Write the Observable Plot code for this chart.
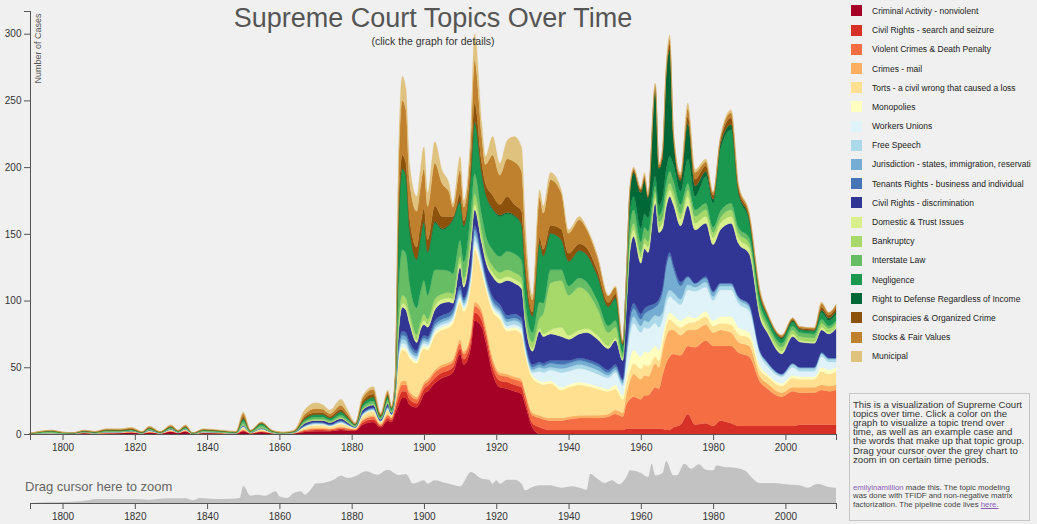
<!DOCTYPE html>
<html><head><meta charset="utf-8">
<script src="https://cdn.jsdelivr.net/npm/d3@7"></script>
<script src="https://cdn.jsdelivr.net/npm/@observablehq/plot@0.6"></script>
<style>
html,body{margin:0;padding:0}
body{background:#f0f0f0;font-family:"Liberation Sans",Arial,Helvetica,sans-serif;overflow:hidden;width:1037px;height:524px;position:relative}
#main{position:absolute;left:0;top:0}
#overview{position:absolute;left:0;top:455px}
#title{position:absolute;left:0;width:866px;top:2px;text-align:center;font-size:27px;color:#555;line-height:32px;pointer-events:none}
#subtitle{position:absolute;left:0;width:866px;top:35px;text-align:center;font-size:10.5px;color:#333;line-height:13px}
#drag{position:absolute;left:25px;top:479px;font-size:13px;color:#666;line-height:16px}
#legend{position:absolute;left:851px;top:1.4px;width:180px;overflow:hidden}
.item{display:flex;align-items:center;height:19.2px;white-space:nowrap;font-size:8.5px;color:#222}
.sw{width:11px;height:11px;margin-right:10px;flex:none}
#info{position:absolute;left:849px;top:393px;width:181px;height:128px;box-sizing:border-box;border:1px solid #c6c6c6}
#p1{position:absolute;left:3px;top:5.5px;font-size:9.6px;line-height:9.2px;color:#333;white-space:nowrap}
#p2{position:absolute;left:3px;top:89.5px;font-size:7.8px;line-height:8.8px;color:#444;white-space:nowrap}
.lnk{color:#8a5cb8}
</style></head>
<body>
<div id="main"></div>
<div id="overview"></div>
<div id="title">Supreme Court Topics Over Time</div>
<div id="subtitle">(click the graph for details)</div>
<div id="drag">Drag cursor here to zoom</div>
<div id="legend"></div>
<div id="info">
<div id="p1">This is a visualization of Supreme Court<br>topics over time. Click a color on the<br>graph to visualize a topic trend over<br>time, as well as an example case and<br>the words that make up that topic group.<br>Drag your cursor over the grey chart to<br>zoom in on certain time periods.</div>
<div id="p2"><span class="lnk">emilyinamillion</span> made this. The topic modeling<br>was done with TFIDF and non-negative matrix<br>factorization. The pipeline code lives <span class="lnk" style="text-decoration:underline">here.</span></div>
</div>
<script>
const topics = ["Criminal Activity - nonviolent","Civil Rights - search and seizure","Violent Crimes & Death Penalty","Crimes - mail","Torts - a civil wrong that caused a loss","Monopolies","Workers Unions","Free Speech","Jurisdiction - states, immigration, reservations","Tenants Rights - business and individual","Civil Rights - discrimination","Domestic & Trust Issues","Bankruptcy","Interstate Law","Negligence","Right to Defense Regardless of Income","Conspiracies & Organized Crime","Stocks & Fair Values","Municipal"];
const colors = ["#a50026","#d73027","#f46d43","#fdae61","#fee090","#ffffbf","#e0f3f8","#abd9e9","#74add1","#4575b4","#313695","#d9ef8b","#a6d96a","#66bd63","#1a9850","#006837","#8c510a","#bf812d","#dfc27d"];

const years = [1791,1797,1800,1803,1806,1809,1812,1816,1819,1822,1824,1827,1830,1832,1834,1836,1839,1844,1848,1850,1852,1855,1858,1861,1864,1867,1870,1872,1874,1877,1879,1881,1883,1886,1888,1890,1891,1892,1893,1894,1895,1896,1898,1899,1900,1901,1903,1905,1907,1908,1910,1911,1913,1914,1916,1917,1919,1921,1923,1925,1927,1928,1930,1932,1933,1935,1938,1940,1943,1945,1948,1951,1953,1955,1956,1957,1958,1960,1961,1962,1964,1965,1966,1967,1968,1969,1971,1973,1975,1978,1980,1982,1985,1987,1990,1993,1995,1999,2002,2004,2008,2010,2012,2014];

// cases per year, one row per year, columns in the order of `topics`
const counts = [
[0.1,0,0,0,0.1,0,0,0,0,0,0,0,0,0.1,0.1,0,0,0.1,0.1],
[0.3,0.1,0.1,0,0.3,0.1,0,0,0.1,0,0.1,0,0.1,0.8,0.3,0,0.2,0.3,0.2],
[0.3,0,0,0,0.2,0,0,0,0,0,0,0,0,0.4,0.2,0,0.1,0.2,0.1],
[0.5,0,0,0,0.1,0,0,0,0,0,0,0,0,0.1,0.1,0,0.1,0.1,0],
[0.8,0.1,0.1,0,0.3,0,0,0,0.1,0,0.1,0,0,0.5,0.3,0,0.2,0.3,0.2],
[0.4,0,0.1,0,0.3,0,0,0,0,0,0.1,0,0,0.3,0.2,0,0.2,0.3,0.1],
[0.6,0.1,0.1,0.1,0.5,0.1,0,0,0.1,0,0.2,0,0.1,0.5,0.4,0,0.3,0.6,0.3],
[0.8,0.1,0.1,0,0.4,0.1,0,0,0.1,0,0.2,0,0.1,0.4,0.4,0,0.4,0.5,0.4],
[1.2,0.1,0.2,0.1,0.5,0.1,0,0,0.1,0,0.2,0,0.1,0.4,0.4,0,0.5,0.7,0.4],
[0.5,0,0.1,0,0.2,0,0,0,0,0,0.1,0,0,0.2,0.2,0,0.2,0.3,0.2],
[1.2,0.2,0.2,0.1,0.6,0.1,0.1,0,0.2,0.1,0.4,0,0.1,0.6,0.5,0,0.5,0.7,0.4],
[0.5,0,0.1,0,0.2,0,0,0,0.1,0,0.1,0,0,0.2,0.2,0,0.2,0.2,0.2],
[1.8,0.2,0.2,0.1,0.8,0.1,0.1,0,0.2,0.1,0.4,0,0.1,0.6,0.5,0,0.5,0.8,0.5],
[0.8,0.1,0.1,0,0.3,0,0,0,0.1,0,0.2,0,0,0.3,0.3,0,0.2,0.4,0.2],
[2,0.2,0.2,0.1,0.8,0.1,0.1,0,0.2,0.1,0.3,0,0.1,0.5,0.5,0,0.5,0.8,0.5],
[0.3,0,0,0,0.1,0,0,0,0,0,0,0,0,0.2,0.1,0,0.1,0.1,0.1],
[0.8,0.1,0.1,0.1,0.4,0.1,0,0,0.1,0,0.2,0,0.1,0.6,0.4,0,0.3,0.4,0.3],
[0.6,0.1,0.1,0,0.3,0,0,0,0.1,0,0.1,0,0.1,0.5,0.3,0,0.2,0.3,0.3],
[0.4,0,0.1,0,0.2,0,0,0,0,0,0.1,0,0,0.4,0.2,0,0.1,0.3,0.2],
[2,0.5,0.5,0.3,1.5,0.3,0.2,0.2,0.4,0.2,0.5,0.2,0.5,2,2,0.2,1.5,2.5,1],
[0.5,0.1,0.1,0,0.3,0,0,0,0.1,0,0.1,0,0.1,0.6,0.4,0,0.2,0.3,0.2],
[1.5,0.3,0.3,0.2,1,0.2,0.2,0.1,0.3,0.1,0.3,0.1,0.4,1.5,1.2,0.1,0.5,0.6,0.1],
[0.6,0.1,0.1,0,0.3,0,0,0,0.1,0,0.1,0,0.1,0.5,0.4,0,0.2,0.3,0.2],
[0.3,0,0.1,0,0.1,0,0,0,0,0,0.1,0,0,0.2,0.2,0,0.1,0.2,0.2],
[0.5,0.1,0.1,0,0.3,0,0,0,0.1,0,0.1,0,0.1,0.3,0.3,0,0.2,0.4,0.5],
[1.5,0.8,0.8,0.3,1.5,0.3,0.3,0.3,0.4,0.3,1.5,0.2,0.5,1.2,1.3,0.1,1.5,2,3.3],
[2,1,1,0.5,2,0.5,0.5,0.5,0.5,0.5,1.2,0.3,0.5,1.5,2,0.2,1.5,3,4.3],
[2,1,1,0.5,2,0.5,0.4,0.4,0.5,0.4,1.5,0.3,0.5,1.5,2,0.2,1.3,2.5,3.5],
[2,0.8,0.8,0.4,1.5,0.3,0.3,0.3,0.4,0.3,1.5,0.2,0.4,1.2,1.5,0.1,1.2,2,2.8],
[3,1,1,0.5,2,0.5,0.5,0.5,0.6,0.5,1.5,0.3,0.6,1.8,2.2,0.2,1.8,3,4.5],
[2.5,0.8,0.8,0.3,1.5,0.3,0.3,0.3,0.4,0.3,1,0.2,0.4,1.3,1.5,0.1,1.2,2,2.3],
[2.5,0.5,0.5,0.2,0.8,0.1,0.1,0.1,0.2,0.1,0.5,0.1,0.2,0.6,0.6,0,0.5,0.7,0.3],
[7,1.5,1.5,0.8,2.5,0.5,0.5,0.5,0.6,0.5,2,0.3,0.6,1.5,2,0.2,2,2.5,1.5],
[9,2,2,1,3,0.5,0.5,0.5,0.7,0.5,2,0.3,0.7,2,2.5,0.3,2.5,3.5,2],
[5,1,1,0.5,1.5,0.2,0.2,0.2,0.3,0.2,1,0.1,0.3,0.8,1,0.1,0.8,1.2,0.5],
[10,2,2,1,3,0.5,0.5,0.5,0.8,0.5,2,0.3,0.7,2,2.5,0.2,1.5,2,1],
[9,1.5,1.5,0.5,1.5,0.2,0.2,0.2,0.3,0.2,1,0.2,0.4,1,1.5,0.1,0.5,0.8,0.4],
[15,3,3,1,4,0.5,0.5,0.5,0.5,0.5,2,0.3,0.7,2,3,0.2,1,2,1],
[22,5,5,3,20,2,2,2,3,3,10,3,5,25,50,1,10,28,12],
[27,5,5,3,23,2,3,3,3,3,18,3,6,34,60,1,10,41,18],
[27,5,5,3,22,2,3,3,3,3,17,3,6,33,58,1,9,40,16],
[22,4,4,2,25,2,2,2,3,3,14,3,5,22,40,1,8,27,14],
[20,3,3,2,25,1.5,2,2,2,2,6,2,4,20,36,0.5,9,27,11],
[24,4,3,2,27,2,2,2,2,2,8,2,4,22,40,0.5,10,28,13.5],
[30,4,3,2,25,2,2,2,2,2,8,3,5,25,43,1,10,30,16],
[32,4,3,2,22,2,2,2,2,2,7,2,4,18,32,0.5,9,25,10.5],
[38,4,4,2,26,2,2,2,2,3,8,3,5,22,35,1,12,32,16],
[42,4,4,2,26,2,2,2,2,3,9,3,4,18,30,1,9,25,10],
[44,4,4,2,26,2,2,2,2,3,8,3,4,16,34,1,6,18,6],
[46,4,4,2,27,2,2,2,2,3,4,3,4,15,40,1,2,7,3],
[60,4,4,3,28,2,2,2,3,3,14,3,5,12,28,1,6,18,10],
[52,4,4,2,30,2,2,2,2,2,8,3,4,12,26,1,4,10,5],
[65,5,4,3,35,3,3,3,3,2,16,4,6,15,28,1,8,18,8],
[85,6,5,3,39,3,4,4,4,3,12,4,8,15,38,1,14,32,20],
[80,5,5,3,28,2,3,3,2,2,10,3,6,12,30,1,8,20,10],
[70,5,4,3,28,2,2,2,2,2,10,3,5,12,30,1,7,14,6],
[45,5,4,3,35,2,2,2,2,3,15,3,5,12,30,1,10,30,14],
[35,5,4,2,40,2,2,2,2,3,16,3,5,12,30,1,8,22,9],
[34,5,4,2,32,2,2,3,2,3,26,3,5,14,28,1,12,28,14],
[32,5,4,2,35,2,2,3,2,3,23,3,5,14,28,1,8,32,19],
[30,5,4,2,34,2,2,3,2,3,22,3,5,13,26,1,10,30,18],
[22,4,4,2,28,2,2,2,2,2,14,2,4,10,20,1,8,20,11],
[5,3,6,2,26,2,2,2,2,2,10,2,5,7,12,0.5,3,9,3.5],
[0,5,7,2,24,2,7,3,2,2,23,2,8,12,43,0.5,5,30,5.5],
[0,4,7,2,24,2,7,3,2,2,20,2,15,8,35,0.5,5,27,5.5],
[0,3,7,2,26,2,8,2,3,2,20,3,35,10,27,0.5,6,34,5.5],
[0,3,7,2,21,2,11,3,3,3,18,7,35,8,22,0.5,8,27,2.5],
[0,3,8,2,22,2,10,3,3,2,16,3,30,7,18,0.5,6,15,2.5],
[0,3,9,2,23,2,10,3,3,2,18,3,32,7,20,0.5,5,18,2.5],
[0,3,9,2,22,2,10,3,3,2,20,3,28,7,20,0.5,5,14,1.5],
[0,3,9,2,20,2,9,3,3,2,18,3,20,6,18,0.5,4,10,1.5],
[0,3,10,2,17,2,8,2,2,2,16,2,10,5,14,0.5,3,5,0.5],
[0,3,12,3,16,3,9,2,2,2,18,2,8,5,16,1,3,5,1],
[0,3,10,3,10,3,7,2,2,1,14,1,2,3,5,1,1,2,0.5],
[0,4,18,8,8,6,12,3,3,3,30,3,3,6,6,4,0.5,1,0.5],
[0,4,22,14,8,9,18,5,5,4,48,5,5,10,10,15,1.5,1.5,1],
[0,4,24,17,8,10,20,5,6,4,50,5,5,10,10,18,1.5,1.5,1],
[0,4,22,15,8,9,18,5,5,4,38,4,4,8,10,27,2,1,1],
[0,4,25,15,8,10,18,5,5,4,45,4,4,8,10,25,2,2,2],
[0,4,25,14,8,10,18,5,8,4,40,4,4,8,10,15,1,1,1],
[0,4,31,18,5,8,17,6,6,3,75,4,4,5,7,65,2,2,1],
[0,4,30,16,5,8,17,8,10,3,50,4,4,5,7,28,1,2,1],
[0,4,40,18,6,6,12,5,15,3,45,4,4,7,8,30,3,3,2],
[0,3,50,20,8,5,12,5,22,3,42,5,5,8,10,70,3,2,2],
[0,3,55,20,8,5,12,5,25,3,42,5,5,9,11,80,4,4,3],
[0,5,55,18,6,5,12,5,18,3,45,5,5,8,12,20,3,2,1],
[0,7,52,15,6,5,12,4,10,3,42,5,4,7,10,8,2,2,2],
[0,15,51,12,5,5,20,4,6,0,53,7,5,5,18,27,5,6,4],
[0,7,58,13,6,3,20,3,3,0,40,5,5,5,10,8,5,5,2],
[0,8,62,12,6,4,18,4,3,1,40,5,5,5,20,4,4,3,2],
[0,6,60,10,5,4,15,3,3,1,35,5,4,4,18,3,3,2,0],
[0,10,56,12,5,5,20,3,2,0,40,5,4,5,46,4,3,2,0],
[0,8,58,10,6,6,20,3,2,0,45,5,5,5,55,4,5,4,2],
[0,6,55,8,6,5,18,3,2,0,40,4,4,4,25,2,3,2,1],
[0,6,52,8,6,4,16,3,2,0,38,4,4,4,12,2,2,2,1],
[0,6,33,4,5,3,8,2,1,0,25,3,3,4,5,1,2,2,1],
[0,6,28,4,5,2,6,2,1,0,22,2,3,3,4,1,1,1,0],
[0,6,22,3,5,2,5,1,1,0,15,2,3,3,3,1,1,1,0],
[0,6,26,3,7,2,6,2,1,0,20,2,3,3,3,1,1,1,0],
[0,7,24,4,6,2,4,2,1,0,19,1,3,3,2,0.5,1,1,0],
[0,7,24,4,6,2,4,2,1,0,18,1,3,3,2,0.5,1,1,0],
[0,7,26,4,10,3,8,2,1,0,17,2,3,3,5,2,2,3,1],
[0,7,25,4,9,3,6,2,1,0,18,1,3,2,4,2,2,2,0],
[0,7,26,4,10,3,4,2,1,0,22,1,3,2,5,2,3,2,0]
];

// overview (grey brush chart) series
const overviewYears = [1791,1797,1800,1805,1807,1809,1813,1820,1824,1827,1831,1834,1836,1838,1842,1847,1849,1850,1852,1854,1856,1859,1860,1862,1864,1866,1867,1869,1870,1872,1874,1875,1877,1879,1881,1884,1887,1890,1893,1895,1897,1900,1901,1903,1906,1907,1910,1913,1916,1918,1919,1920,1921,1923,1925,1927,1928,1930,1932,1935,1938,1941,1943,1945,1946,1948,1950,1952,1954,1956,1957,1960,1962,1963,1964,1966,1967,1969,1970,1972,1974,1976,1978,1980,1981,1983,1986,1989,1991,1993,1997,2000,2004,2006,2009,2012,2014];
const overviewValues = [0,0.7,1,1.7,2.7,4,4,4,3.3,4.3,4.7,4.7,2.7,5,4,4.3,5,17,7.3,8.3,7.3,11.7,6.7,5,10,11.7,8.3,15,19.5,20,21.7,23.3,27.3,25,26.7,31.7,28.3,33.3,28,29,19.3,22.7,19.3,22.7,20,19.3,16.7,31,24.3,23.3,19.3,22.7,19.3,23.3,23.3,19.3,12.7,16,17.7,17.7,15.3,16.7,15.3,13.3,29.3,24.3,20,22.7,18.7,26,32.7,30,26,39.3,27.7,30,42,27.7,27.7,39.3,34.3,38.7,33.3,32.7,37.7,36,35.3,32,24.3,20,20,18.7,17.7,15.3,19.3,16,15.3];

const yTicks = [0,50,100,150,200,250,300];
const xTicks = [1800,1820,1840,1860,1880,1900,1920,1940,1960,1980,2000];

const data = [];
years.forEach((yr, i) => topics.forEach((t, j) => data.push({year: yr, topic: t, value: counts[i][j]})));
const overview = overviewYears.map((yr, i) => ({year: yr, value: overviewValues[i]}));

const axisColor = "#555";
const font = '"Liberation Sans", Arial, Helvetica, sans-serif';

const main = Plot.plot({
  width: 840, height: 455,
  marginLeft: 30, marginRight: 4, marginTop: 11, marginBottom: 21,
  style: {background: "transparent", fontFamily: font, fontSize: "10px", color: "#333", overflow: "visible"},
  x: {domain: [1791, 2014]},
  y: {domain: [0, 317]},
  color: {domain: topics, range: colors},
  marks: [
    Plot.areaY(data, {x: "year", y: "value", fill: "topic", stroke: "topic", strokeWidth: 0.3, curve: "monotone-x"}),
    Plot.axisX({ticks: xTicks, tickFormat: d => String(d), tickSize: 6, tickPadding: 3, label: null, stroke: axisColor}),
    Plot.axisY({ticks: yTicks, tickSize: 6, tickPadding: 3, label: null, stroke: axisColor}),
    Plot.ruleY([0], {stroke: axisColor}),
    Plot.ruleX([1791, 2014], {y1: 0, y2: 0, insetBottom: -6, stroke: axisColor}),
    Plot.ruleX([1791], {y1: 0, y2: 317, stroke: axisColor}),
    Plot.ruleY([317], {x1: 1791, x2: 1791, insetLeft: -6, stroke: axisColor}),
    Plot.text(["Number of Cases"], {frameAnchor: "top-left", rotate: -90, textAnchor: "end", dx: 4, dy: 2, fontSize: 9, fill: "#555"})
  ]
});
document.getElementById("main").appendChild(main);

const ov = Plot.plot({
  width: 840, height: 69,
  marginLeft: 30, marginRight: 4, marginTop: 0, marginBottom: 21,
  style: {background: "transparent", fontFamily: font, fontSize: "10px", color: "#333"},
  x: {domain: [1791, 2014]},
  y: {domain: [0, 48], axis: null},
  marks: [
    Plot.areaY(overview, {x: "year", y: "value", fill: "#c2c2c2", curve: "monotone-x"}),
    Plot.axisX({ticks: xTicks, tickFormat: d => String(d), tickSize: 6, tickPadding: 3, label: null, stroke: axisColor}),
    Plot.ruleY([0], {stroke: axisColor}),
    Plot.ruleX([1791, 2014], {y1: 0, y2: 0, insetBottom: -6, stroke: axisColor})
  ]
});
document.getElementById("overview").appendChild(ov);

const legend = document.getElementById("legend");
topics.forEach((t, i) => {
  const row = document.createElement("div");
  row.className = "item";
  const sw = document.createElement("span");
  sw.className = "sw";
  sw.style.background = colors[i];
  const lab = document.createElement("span");
  lab.textContent = t;
  row.appendChild(sw);
  row.appendChild(lab);
  legend.appendChild(row);
});
</script>
</body></html>
